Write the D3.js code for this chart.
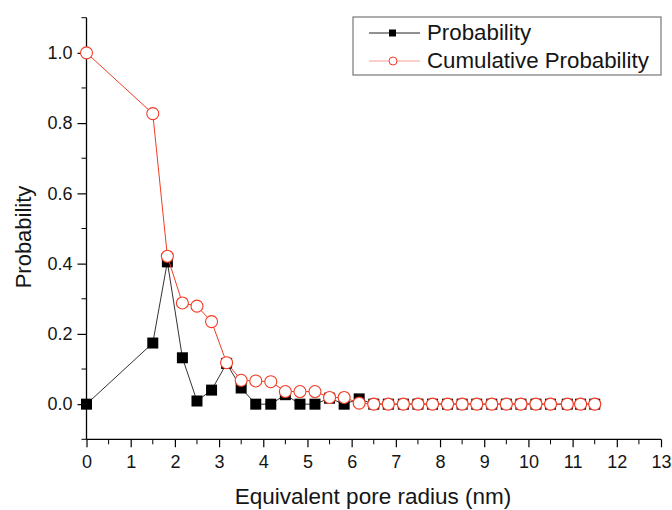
<!DOCTYPE html>
<html><head><meta charset="utf-8">
<script src="https://cdn.jsdelivr.net/npm/d3@7"></script>
<style>body{margin:0;background:#fff;} svg{display:block;font-family:"Liberation Sans",Arial,sans-serif;}</style>
</head><body>
<svg id="c" width="672" height="510"></svg>
<script>
const radius = [0, 1.5, 1.83, 2.17, 2.5, 2.83, 3.17, 3.5, 3.83, 4.17, 4.5, 4.83, 5.17, 5.5, 5.83, 6.17,
  6.5, 6.83, 7.17, 7.5, 7.83, 8.17, 8.5, 8.83, 9.17, 9.5, 9.83, 10.17, 10.5, 10.88, 11.18, 11.5];
const probability = [0, 0.174, 0.405, 0.132, 0.009, 0.04, 0.116, 0.046, 0, 0, 0.027, 0, 0, 0.017, 0, 0.015,
  0, 0, 0, 0, 0, 0, 0, 0, 0, 0, 0, 0, 0, 0, 0, 0];
const cumulative = [1.0, 0.827, 0.421, 0.288, 0.279, 0.235, 0.118, 0.068, 0.066, 0.064, 0.036, 0.036, 0.036, 0.019, 0.019, 0.003,
  0, 0, 0, 0, 0, 0, 0, 0, 0, 0, 0, 0, 0, 0, 0, 0];
const xTicks = [0,1,2,3,4,5,6,7,8,9,10,11,12,13];
const yTicks = [0.0, 0.2, 0.4, 0.6, 0.8, 1.0];
const seriesNames = ["Probability", "Cumulative Probability"];
const xTitle = "Equivalent pore radius (nm)";
const yTitle = "Probability";

const svg = d3.select("#c");
const x = d3.scaleLinear().domain([0, 13]).range([86.5, 661]);
const y = d3.scaleLinear().domain([-0.1, 1.1]).range([439.3, 17.7]);
const red = "#f23b24";
const txt = "#151515";

// axes
const xAxis = d3.axisBottom(x).tickValues(xTicks).tickFormat(d3.format("d")).tickSize(8).tickPadding(8);
const gx = svg.append("g").attr("transform", `translate(0,${y(-0.1)})`).call(xAxis);
gx.append("g").selectAll("line").data(d3.range(0.5, 13, 1)).join("line")
  .attr("x1", d => x(d)).attr("x2", d => x(d)).attr("y1", 0).attr("y2", 5).attr("stroke", "#000");
const yAxis = d3.axisLeft(y).tickValues(yTicks).tickFormat(d3.format(".1f")).tickSize(9).tickPadding(5);
const gy = svg.append("g").attr("transform", `translate(${x(0)},0)`).call(yAxis);
gy.append("g").selectAll("line").data([-0.1, 0.1, 0.3, 0.5, 0.7, 0.9, 1.1]).join("line")
  .attr("x1", 0).attr("x2", -5).attr("y1", d => y(d)).attr("y2", d => y(d)).attr("stroke", "#000");
[gx, gy].forEach(g => {
  g.select(".domain").attr("stroke", "#000").attr("stroke-width", 1.3);
  g.selectAll(".tick line").attr("stroke", "#000").attr("stroke-width", 1.2);
  g.selectAll("text").attr("font-size", 18).attr("fill", txt).attr("font-family", "Liberation Sans, Arial, sans-serif");
});
gx.select(".domain").attr("d", `M${x(0)},0H${x(13)}`);
gy.select(".domain").attr("d", `M0,${y(-0.1)}V${y(1.1)}`);

// titles
svg.append("text").attr("x", 373).attr("y", 504).attr("text-anchor", "middle")
  .attr("font-size", 22.5).attr("fill", txt).text(xTitle);
svg.append("text").attr("transform", "translate(31,237) rotate(-90)").attr("text-anchor", "middle")
  .attr("font-size", 22).attr("fill", txt).text(yTitle);

const pts = radius.map((r, i) => ({r, p: probability[i], c: cumulative[i]}));
const lineP = d3.line().x(d => x(d.r)).y(d => y(d.p));
const lineC = d3.line().x(d => x(d.r)).y(d => y(d.c));

svg.append("path").datum(pts).attr("d", lineP).attr("fill", "none").attr("stroke", "#333").attr("stroke-width", 1);
svg.append("g").selectAll("rect").data(pts).join("rect")
  .attr("x", d => x(d.r) - 5.5).attr("y", d => y(d.p) - 5.5).attr("width", 11).attr("height", 11).attr("fill", "#000");
svg.append("path").datum(pts).attr("d", lineC).attr("fill", "none").attr("stroke", red).attr("stroke-width", 1);
svg.append("g").selectAll("circle").data(pts).join("circle")
  .attr("cx", d => x(d.r)).attr("cy", d => y(d.c)).attr("r", 6).attr("fill", "#fff").attr("stroke", red).attr("stroke-width", 1.1);

// legend
const lg = svg.append("g");
lg.append("rect").attr("x", 353).attr("y", 17).attr("width", 308).attr("height", 58)
  .attr("fill", "#fff").attr("stroke", "#777").attr("stroke-width", 1.2);
lg.append("line").attr("x1", 369).attr("x2", 420).attr("y1", 33).attr("y2", 33).attr("stroke", "#222");
lg.append("rect").attr("x", 389).attr("y", 29.5).attr("width", 7).attr("height", 7).attr("fill", "#000");
lg.append("line").attr("x1", 369).attr("x2", 420).attr("y1", 61).attr("y2", 61).attr("stroke", "#f7a090");
lg.append("circle").attr("cx", 393).attr("cy", 61).attr("r", 4).attr("fill", "#fff").attr("stroke", red);
lg.selectAll("text.l").data(seriesNames).join("text").attr("class", "l")
  .attr("x", 427).attr("y", (d, i) => 40 + i * 28).attr("font-size", 22.3).attr("fill", txt).text(d => d);
</script>
</body></html>
